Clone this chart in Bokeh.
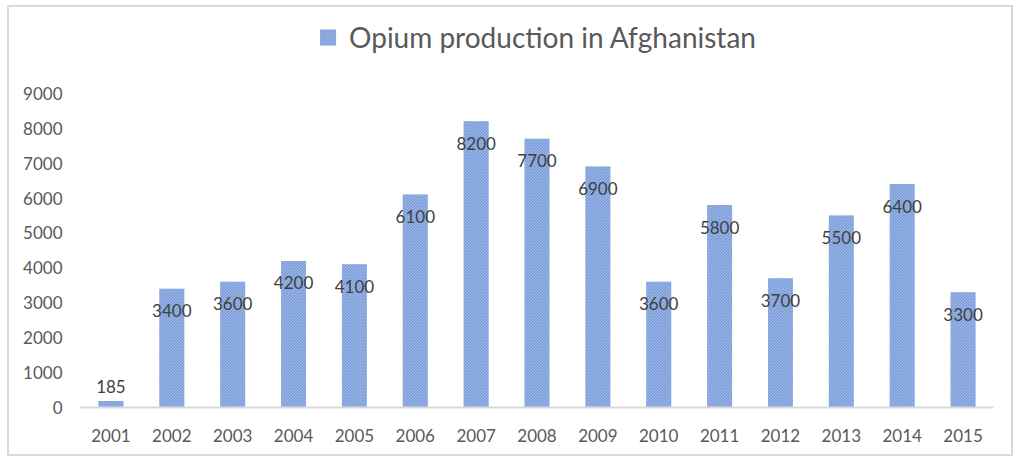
from bokeh.plotting import figure
from bokeh.models import ColumnDataSource, Legend, LegendItem
from bokeh.core.properties import value
from bokeh.embed import file_html
from bokeh.resources import INLINE

years = ["2001", "2002", "2003", "2004", "2005", "2006", "2007", "2008",
         "2009", "2010", "2011", "2012", "2013", "2014", "2015"]
production = [185, 3400, 3600, 4200, 4100, 6100, 8200, 7700,
              6900, 3600, 5800, 3700, 5500, 6400, 3300]
labels = [str(v) for v in production]
y_ticks = [0, 1000, 2000, 3000, 4000, 5000, 6000, 7000, 8000, 9000]

offsets = [-15 if v < 1000 else 22 for v in production]
src = ColumnDataSource(dict(x=years, top=production, label=labels, off=offsets))

FONT = "Lato"
p = figure(x_range=years, y_range=(0, 11200), width=1006, height=451,
           output_backend="svg", toolbar_location=None,
           min_border_left=71, min_border_right=22, min_border_top=9,
           min_border_bottom=51)
p.styles = {"border": "2px solid #d9d9d9", "margin": "5px 0 0 7px"}

bars = p.vbar(x="x", top="top", width=0.41, source=src,
              fill_color="#b7cbee", line_color=None,
              hatch_pattern="\\", hatch_color="#6d93d6",
              hatch_scale=3, hatch_weight=1)

p.text(x="x", y="top", text="label", source=src, y_offset="off",
       text_align="center", text_baseline="middle",
       text_font=value(FONT), text_font_size="17px", text_color="#404040")

legend = Legend(items=[LegendItem(label="Opium production in Afghanistan",
                                  renderers=[bars])],
                orientation="horizontal", location="top_center",
                label_text_font=FONT, label_text_font_size="28px",
                label_text_color="#595959", glyph_width=20, glyph_height=20,
                label_standoff=12, border_line_color=None,
                background_fill_alpha=0, padding=2, margin=4)
p.add_layout(legend, "center")

p.xgrid.grid_line_color = None
p.ygrid.grid_line_color = None
p.outline_line_color = None

p.yaxis.ticker = y_ticks
p.yaxis.axis_line_color = None
p.yaxis.major_tick_line_color = None
p.yaxis.minor_tick_line_color = None
p.yaxis.major_label_standoff = 12
p.yaxis.major_label_text_font = FONT
p.yaxis.major_label_text_font_size = "17px"
p.yaxis.major_label_text_color = "#595959"

p.xaxis.axis_line_color = "#d9d9d9"
p.xaxis.axis_line_width = 2
p.xaxis.major_tick_line_color = None
p.xaxis.minor_tick_line_color = None
p.xaxis.major_label_standoff = 15
p.xaxis.major_label_text_font = FONT
p.xaxis.major_label_text_font_size = "17px"
p.xaxis.major_label_text_color = "#595959"

p.x_range.range_padding = 0

open("out.html", "w").write(file_html(p, INLINE))
